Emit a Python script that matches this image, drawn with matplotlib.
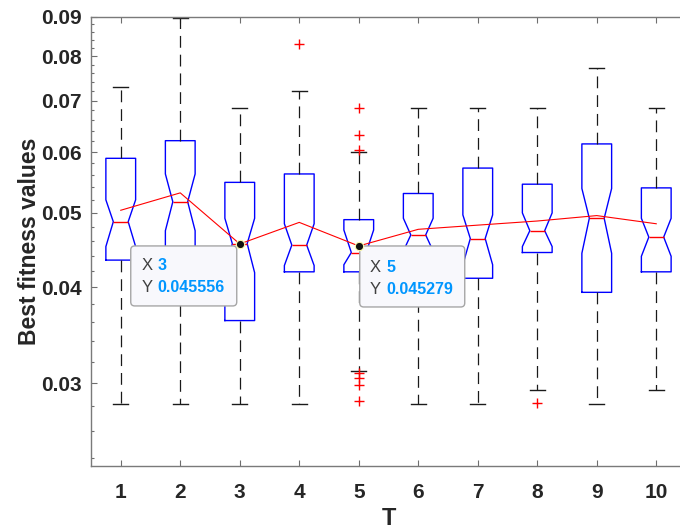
import matplotlib
matplotlib.use("Agg")
import matplotlib.pyplot as plt
import matplotlib.transforms as mtransforms
from matplotlib.patches import FancyBboxPatch
from matplotlib.ticker import FixedLocator, NullLocator, NullFormatter
import numpy as np

plt.rcParams['font.family'] = ['Liberation Sans', 'DejaVu Sans']
plt.rcParams['lines.scale_dashes'] = False

# best fitness per setting of T (log scale)
T = [1, 2, 3, 4, 5, 6, 7, 8, 9, 10]
whislo = [0.0282, 0.0282, 0.0282, 0.0282, 0.0311, 0.0282, 0.0282, 0.0294, 0.0282, 0.0294]
q1     = [0.0434, 0.0425, 0.0362, 0.0419, 0.0419, 0.0430, 0.0411, 0.0444, 0.0394, 0.0419]
cilo   = [0.0452, 0.0474, 0.0418, 0.0427, 0.0428, 0.0446, 0.0428, 0.0452, 0.0443, 0.0439]
med    = [0.0487, 0.0517, 0.0456, 0.0454, 0.0444, 0.0468, 0.0463, 0.0474, 0.0492, 0.0465]
cihi   = [0.0520, 0.0562, 0.0492, 0.0484, 0.0475, 0.0492, 0.0497, 0.0500, 0.0538, 0.0492]
q3     = [0.0589, 0.0621, 0.0548, 0.0562, 0.0490, 0.0530, 0.0572, 0.0545, 0.0615, 0.0539]
whishi = [0.0730, 0.0898, 0.0684, 0.0721, 0.0600, 0.0684, 0.0684, 0.0685, 0.0772, 0.0684]
fliers = [[], [], [], [0.0831],
          [0.0684, 0.0632, 0.0604, 0.0309, 0.0305, 0.0298, 0.0284],
          [], [], [0.0283], [], []]
means  = [0.0504, 0.0531, 0.045556, 0.0486, 0.045279, 0.0476, 0.0482, 0.0488, 0.0496, 0.0484]

yticks = [0.03, 0.04, 0.05, 0.06, 0.07, 0.08, 0.09]
ytick_labels = ['0.03', '0.04', '0.05', '0.06', '0.07', '0.08', '0.09']
tips = [(3, '3', '0.045556'), (5, '5', '0.045279')]

fig = plt.figure(figsize=(6.8, 5.29), dpi=100)
# right edge of the box sits just past the figure border
ax = fig.add_axes([91 / 680, 63 / 529, 595 / 680, 449 / 529])

stats = []
for i in range(len(T)):
    stats.append(dict(med=med[i], q1=q1[i], q3=q3[i], whislo=whislo[i], whishi=whishi[i],
                      cilo=cilo[i], cihi=cihi[i], fliers=fliers[i], label=str(T[i])))

ax.bxp(stats, positions=T, widths=0.5, shownotches=True, showfliers=True,
       boxprops=dict(color='#0000ff', lw=1.0),
       medianprops=dict(color='#ff0000', lw=1.0),
       whiskerprops=dict(color='#1a1a1a', lw=0.9, linestyle=(0, (8.5, 5))),
       capprops=dict(color='#1a1a1a', lw=1.0),
       flierprops=dict(marker='+', markeredgecolor='#ff0000', markersize=7, mew=1.0,
                       linestyle='none'))

ax.plot(T, means, color='#ff0000', lw=0.8, zorder=3)

ax.set_yscale('log')
ax.set_xlim(0.5, 10.5)
ax.set_ylim(0.0234, 0.09)
ax.yaxis.set_major_locator(FixedLocator(yticks))
ax.set_yticklabels(ytick_labels)
minor = [v for v in np.arange(0.024, 0.0895, 0.002) if min(abs(v - t) for t in yticks) > 1e-6]
ax.yaxis.set_minor_locator(FixedLocator(minor))
ax.yaxis.set_minor_formatter(NullFormatter())
ax.set_xticks(T)
ax.set_xticklabels([str(t) for t in T])
ax.xaxis.set_minor_locator(NullLocator())

ax.tick_params(which='both', direction='in', top=True, right=True, color='#6e6e6e', width=0.8)
ax.tick_params(which='major', length=4.5)
ax.tick_params(which='minor', length=2.5)
ax.tick_params(axis='x', pad=12, labelsize=15, labelcolor='#262626')
ax.tick_params(axis='y', pad=7, labelsize=15, labelcolor='#262626')
for lab in ax.get_xticklabels() + ax.get_yticklabels():
    lab.set_fontweight('bold')
for sp in ax.spines.values():
    sp.set_color('#7a7a7a')
    sp.set_linewidth(1.0)

ax.set_ylabel('Best fitness values', fontsize=16.5, fontweight='bold', color='#262626')
ax.yaxis.label.set_va('center')
ax.yaxis.set_label_coords(-0.103, 0.5)
ax.set_xlabel('T', fontsize=17, fontweight='bold', color='#262626')
ax.xaxis.label.set_va('center')
ax.xaxis.set_label_coords(0.5, -0.116)

# data tips
ident = mtransforms.IdentityTransform()
tip_layout = {3: (-109, -62, 106, 60, -98, -82), 5: (1, -61, 105, 61, 11, 28)}
for xv, xs, ys in tips:
    yv = means[T.index(xv)]
    px, py = ax.transData.transform((xv, yv))
    bx, by, bw, bh, lx, vx = tip_layout[xv]
    box = FancyBboxPatch((px + bx, py + by), bw, bh,
                         boxstyle='round,pad=0,rounding_size=4', transform=ident,
                         fc='#f8f8fc', ec='#a6a6a6', lw=1.0, zorder=6, clip_on=False)
    ax.add_artist(box)
    for dy, name, val in [(-22, 'X', xs), (-44, 'Y', ys)]:
        ax.text(px + lx, py + dy, name, transform=ident, fontsize=12, color='#404040',
                va='center', ha='left', zorder=7)
        ax.text(px + vx, py + dy, val, transform=ident, fontsize=11.5, color='#0096ff',
                fontweight='bold', va='center', ha='left', zorder=7)
    ax.plot(xv, yv, 'o', ms=6, mfc='#111111', mec='#fffbb0', mew=0.8, zorder=8)

fig.savefig('out.png', dpi=100)
